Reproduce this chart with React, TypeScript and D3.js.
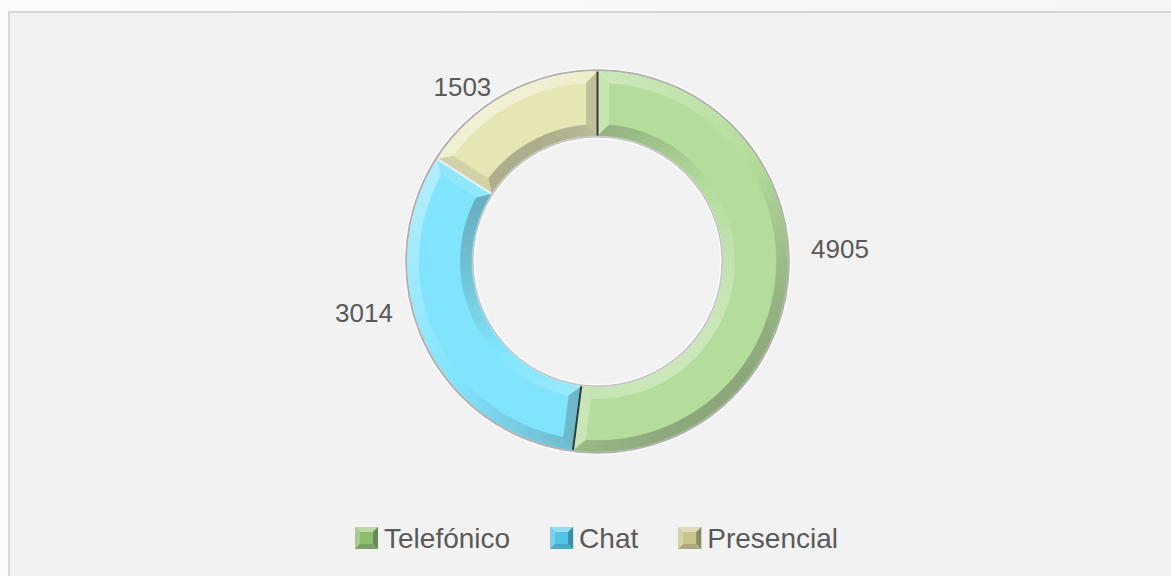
import React, { useMemo } from "react";
import * as d3 from "d3";

const categories = ["Telefónico", "Chat", "Presencial"];
const values = [4905, 3014, 1503];
const sliceColors = ["#b4dd9b", "#80e4fc", "#e6e6b5"];
const legendColors = ["#8fbd6e", "#4fc6e8", "#c6c68c"];
const separatorColors = ["#3a3a3a", "#3a3a3a", "#eeeeee"];
const labelNudges: [number, number][] = [[-7, -29], [-7, -54], [-15, 45]];

const W = 1171;
const H = 576;
const cx = 597.5;
const cy = 261.5;
const R = 190;
const r0 = 126;
const bevel = 11;
const textColor = "#595959";
const FONT = "'Liberation Sans', Arial, sans-serif";

const L = (() => {
  const v = [-0.62, -0.78];
  const n = Math.hypot(v[0], v[1]);
  return [v[0] / n, v[1] / n];
})();

function pt(a: number, r: number): [number, number] {
  return [cx + r * Math.sin(a), cy - r * Math.cos(a)];
}

function shade(base: string, s: number) {
  if (s >= 0) return d3.interpolateRgb(base, "#ffffff")(Math.min(1, s) * 0.45);
  return d3.interpolateRgb(base, "#3a3a3a")(Math.min(1, -s) * 0.42);
}

function poly(pts: [number, number][]) {
  return "M" + pts.map((p) => p[0].toFixed(2) + "," + p[1].toFixed(2)).join("L") + "Z";
}

function measure(text: string, font: string) {
  const c = document.createElement("canvas");
  const ctx = c.getContext("2d")!;
  ctx.font = font;
  return ctx.measureText(text).width;
}

function lit(nx: number, ny: number) {
  return nx * L[0] + ny * L[1];
}

export default function App() {
  const pie = useMemo(
    () => d3.pie<number>().sort(null).value((d) => d)(values),
    []
  );
  const arc = d3.arc<d3.PieArcDatum<number>>().innerRadius(r0).outerRadius(R);

  const faces: { d: string; fill: string }[] = [];
  pie.forEach((p, i) => {
    const base = sliceColors[i];
    const a0 = p.startAngle;
    const a1 = p.endAngle;
    const dO = Math.asin(bevel / (R - bevel));
    const dI = Math.asin(bevel / (r0 + bevel));
    const steps = Math.max(2, Math.ceil((a1 - a0) / (Math.PI / 120)));
    for (let k = 0; k < steps; k++) {
      const t0 = a0 + ((a1 - a0) * k) / steps;
      const t1 = a0 + ((a1 - a0) * (k + 1)) / steps;
      const tm = (t0 + t1) / 2;
      const u0 = a0 + dO + ((a1 - a0 - 2 * dO) * k) / steps;
      const u1 = a0 + dO + ((a1 - a0 - 2 * dO) * (k + 1)) / steps;
      const sO = 0.85 * lit(Math.sin(tm), -Math.cos(tm)) + 0.05;
      faces.push({ d: poly([pt(t0, R), pt(t1, R), pt(u1, R - bevel), pt(u0, R - bevel)]), fill: shade(base, sO) });
      const w0 = a0 + dI + ((a1 - a0 - 2 * dI) * k) / steps;
      const w1 = a0 + dI + ((a1 - a0 - 2 * dI) * (k + 1)) / steps;
      const sI = 0.75 * lit(-Math.sin(tm), Math.cos(tm)) - 0.05;
      faces.push({ d: poly([pt(t0, r0), pt(t1, r0), pt(w1, r0 + bevel), pt(w0, r0 + bevel)]), fill: shade(base, sI) });
    }
    const sS = 0.85 * lit(-Math.cos(a0), -Math.sin(a0));
    faces.push({
      d: poly([pt(a0, R), pt(a0, r0), pt(a0 + dI, r0 + bevel), pt(a0 + dO, R - bevel)]),
      fill: shade(base, sS),
    });
    const sE = 0.85 * lit(Math.cos(a1), Math.sin(a1));
    faces.push({
      d: poly([pt(a1, R), pt(a1, r0), pt(a1 - dI, r0 + bevel), pt(a1 - dO, R - bevel)]),
      fill: shade(base, sE),
    });
  });

  const legendFont = `28px ${FONT}`;
  const mk = 23;
  const mkH = 22;
  const mkGap = 8;
  const itemGap = 38;
  const widths = categories.map((c) => mk + mkGap + measure(c, legendFont));
  const total = d3.sum(widths) + itemGap * (categories.length - 1);
  const starts: number[] = [];
  let acc = cx - total / 2;
  widths.forEach((w) => {
    starts.push(acc);
    acc += w + itemGap;
  });
  const legendTop = 527;

  return (
    <div style={{ position: "absolute", left: 0, top: 0 }}>
      <svg width={W} height={H} style={{ display: "block" }}>
        <defs>
          <linearGradient id="outer" x1="0" y1="0" x2="1" y2="0">
            <stop offset="0" stopColor="#fbfbfb" />
            <stop offset="1" stopColor="#f6f6f6" />
          </linearGradient>
        </defs>
        <rect x={0} y={0} width={W} height={H} fill="url(#outer)" />
        <rect x={9} y={12} width={W} height={H} fill="#f2f2f2" stroke="#d6d6d6" strokeWidth={2} />

        <circle cx={cx} cy={cy} r={R + 2.8} fill="none" stroke="#fbfbfb" strokeWidth={1.4} />
        <circle cx={cx} cy={cy} r={R + 1.3} fill="none" stroke="#b0b0b0" strokeWidth={2} />
        <circle cx={cx} cy={cy} r={r0 - 1.3} fill="none" stroke="#c4c4c4" strokeWidth={1.8} />
        <circle cx={cx} cy={cy} r={r0 - 2.8} fill="none" stroke="#fdfdfd" strokeWidth={1.2} />

        <g transform={`translate(${cx},${cy})`}>
          {pie.map((p, i) => (
            <path key={i} d={arc(p) || ""} fill={sliceColors[i]} />
          ))}
        </g>
        {faces.map((f, i) => (
          <path key={i} d={f.d} fill={f.fill} stroke={f.fill} strokeWidth={0.6} />
        ))}
        {pie.map((p, i) => {
          const [x1, y1] = pt(p.startAngle, r0);
          const [x2, y2] = pt(p.startAngle, R);
          return (
            <line key={i} x1={x1} y1={y1} x2={x2} y2={y2} stroke={separatorColors[i]} strokeWidth={2} />
          );
        })}

        {pie.map((p, i) => {
          const a = (p.startAngle + p.endAngle) / 2;
          const [x, y] = pt(a, 250);
          return (
            <text
              key={i}
              x={x + labelNudges[i][0]}
              y={y + labelNudges[i][1] + 9}
              textAnchor="middle"
              fontFamily={FONT}
              fontSize={26}
              fill={textColor}
            >
              {values[i]}
            </text>
          );
        })}

        {categories.map((c, i) => {
          const x = starts[i];
          const y = legendTop;
          const b = 5;
          const col = legendColors[i];
          return (
            <g key={c}>
              <rect x={x} y={y} width={mk} height={mkH} fill={col} />
              <path d={poly([[x, y], [x + mk, y], [x + mk - b, y + b], [x + b, y + b]])} fill={shade(col, 0.9)} />
              <path d={poly([[x, y], [x + b, y + b], [x + b, y + mkH - b], [x, y + mkH]])} fill={shade(col, 0.5)} />
              <path d={poly([[x + mk, y], [x + mk, y + mkH], [x + mk - b, y + mkH - b], [x + mk - b, y + b]])} fill={shade(col, -1)} />
              <path d={poly([[x, y + mkH], [x + b, y + mkH - b], [x + mk - b, y + mkH - b], [x + mk, y + mkH]])} fill={shade(col, -0.5)} />
              <text x={x + mk + mkGap - 2} y={y + 21} fontFamily={FONT} fontSize={28} fill={textColor}>
                {c}
              </text>
            </g>
          );
        })}
      </svg>
    </div>
  );
}
